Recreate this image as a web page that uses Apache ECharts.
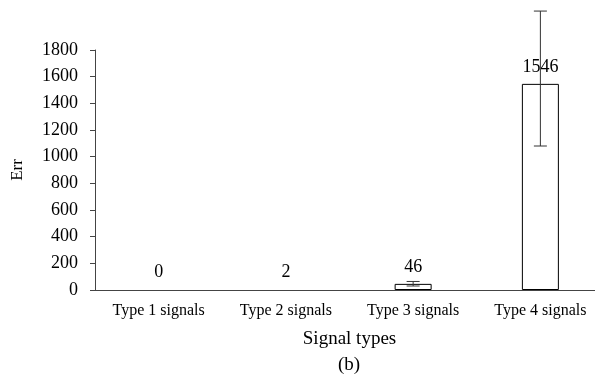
<!DOCTYPE html>
<html><head><meta charset="utf-8">
<script src="https://cdn.jsdelivr.net/npm/echarts@6/dist/echarts.min.js"></script>
<style>html,body{margin:0;padding:0;background:#fff}#c{width:595px;height:378px}</style>
</head><body><div id="c"></div>
<script>
const categories = ['Type 1 signals', 'Type 2 signals', 'Type 3 signals', 'Type 4 signals'];
const values = [0, 2, 46, 1546];
const errLow = [0, 2, 30, 1080];
const errHigh = [0, 2, 64, 2092];
const yTicks = [0, 200, 400, 600, 800, 1000, 1200, 1400, 1600, 1800];

const font = 'Liberation Serif';
const chart = echarts.init(document.getElementById('c'));
chart.setOption({
  animation: false,
  backgroundColor: '#fff',
  title: {
    text: '(b)', left: 333, top: 351,
    textStyle: { fontFamily: font, fontSize: 19, fontWeight: 'normal', color: '#000' }
  },
  grid: { left: 95, top: 50, bottom: 88, right: -9, containLabel: false, outerBoundsMode: 'none' },
  xAxis: {
    type: 'category', data: categories,
    name: 'Signal types', nameLocation: 'middle', nameGap: 40,
    nameTextStyle: { fontFamily: font, fontSize: 19, color: '#000' },
    axisLine: { lineStyle: { color: '#444', width: 1 } },
    axisTick: { inside: true, length: 4, lineStyle: { color: '#444' } },
    axisLabel: { fontFamily: font, fontSize: 16, color: '#000', margin: 13 }
  },
  yAxis: {
    type: 'value', min: yTicks[0], max: yTicks[yTicks.length - 1], interval: 200,
    name: 'Err', nameLocation: 'middle', nameGap: 69, nameRotate: 90,
    nameTextStyle: { fontFamily: font, fontSize: 17, color: '#000' },
    splitLine: { show: false },
    axisLine: { show: true, lineStyle: { color: '#444', width: 1 } },
    axisTick: { show: true, length: 5, lineStyle: { color: '#444' } },
    axisLabel: { fontFamily: font, fontSize: 18, color: '#000', margin: 17, formatter: v => String(v) }
  },
  series: [
    {
      type: 'bar', barWidth: 37,
      data: values.map(v => ({ value: v, itemStyle: v < 10 ? { borderColor: 'rgba(0,0,0,0)' } : {} })),
      itemStyle: { color: '#fff', borderColor: '#000', borderWidth: 1 },
      label: { show: true, position: 'top', distance: 8, fontFamily: font, fontSize: 18, color: '#000' }
    },
    {
      type: 'custom', clip: false, z: 5,
      data: categories.map((c, i) => [i, errLow[i], errHigh[i]]),
      renderItem: function (params, api) {
        const i = api.value(0);
        if (api.value(1) === api.value(2)) return null;
        const lo = api.coord([i, api.value(1)]);
        const hi = api.coord([i, api.value(2)]);
        const x = lo[0], hw = 6.5;
        const st = { stroke: '#333', lineWidth: 1 };
        return { type: 'group', children: [
          { type: 'line', shape: { x1: x, y1: lo[1], x2: x, y2: hi[1] }, style: st },
          { type: 'line', shape: { x1: x - hw, y1: lo[1], x2: x + hw, y2: lo[1] }, style: st },
          { type: 'line', shape: { x1: x - hw, y1: hi[1], x2: x + hw, y2: hi[1] }, style: st }
        ]};
      }
    }
  ]
});
</script></body></html>
